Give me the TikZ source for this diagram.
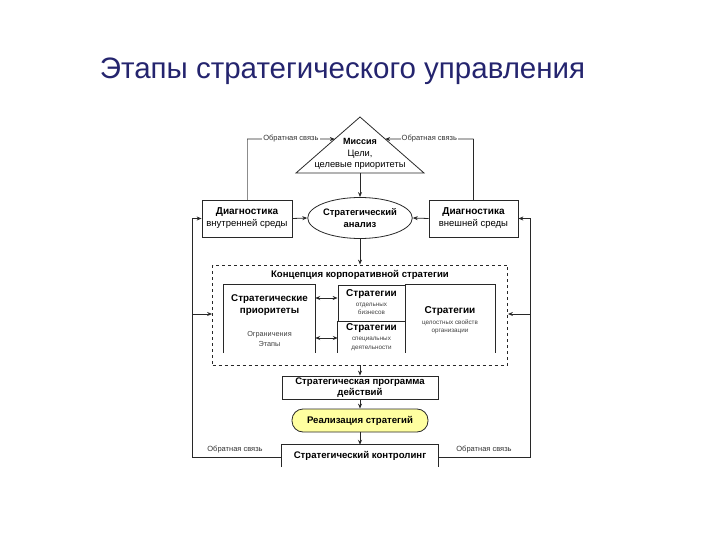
\documentclass[tikz,border=0pt]{standalone}
\usepackage{fontspec}
\setmainfont{Liberation Sans}
\usetikzlibrary{arrows.meta,shapes.geometric,calc}
\definecolor{titleblue}{RGB}{36,36,110}
\definecolor{lineclr}{RGB}{40,40,40}
\definecolor{realyellow}{RGB}{255,255,160}
\begin{document}
\begin{tikzpicture}[x=1pt,y=-1pt,
  ln/.style={draw=lineclr, line width=0.8pt},
  box/.style={ln, rectangle, inner sep=0pt, align=center, font=\bfseries\fontsize{9.6}{11.5}\selectfont},
  plain/.style={rectangle, inner sep=0pt, align=center},
  arr/.style={ln, -{Stealth[length=5pt,width=4pt]}},
  darr/.style={ln, {Stealth[length=5pt,width=4pt]}-{Stealth[length=5pt,width=4pt]}},
  fb/.style={font=\fontsize{7.5}{9}\selectfont, fill=white, inner sep=1pt, text=black!80},
  bigt/.style={font=\bfseries\fontsize{9.6}{11.5}\selectfont, align=center, inner sep=0pt},
  midt/.style={font=\bfseries\fontsize{10}{12}\selectfont, align=center, inner sep=0pt},
  smallt/.style={font=\fontsize{6.3}{8.5}\selectfont, align=center, inner sep=0pt, text=black!75}
]
\useasboundingbox (0,0) rectangle (720,540);
% title
\node[font=\fontsize{29.5}{34}\selectfont, text=titleblue] (title) at (342.5,71) {Этапы стратегического управления};

% triangle
\coordinate (tA) at (360,117);
\coordinate (tL) at (296,173);
\coordinate (tR) at (424,173);
\coordinate (tB) at (360,173);
\draw[ln] (tA) -- (tL) -- (tR) -- cycle;
\node[plain, font=\fontsize{9.3}{11.5}\selectfont] (mission) at (360,154) {{\bfseries\fontsize{9}{11.5}\selectfont Миссия}\\Цели,\\целевые приоритеты};

% diagnostics and analysis
\node[box, minimum width=90, minimum height=37, font=\fontsize{9.5}{12}\selectfont] (din) at (247,218.5) {{\bfseries\fontsize{10}{12}\selectfont Диагностика}\\внутренней среды};
\node[box, minimum width=89, minimum height=37, font=\fontsize{9.5}{12}\selectfont] (dout) at (473.5,218.5) {{\bfseries\fontsize{10}{12}\selectfont Диагностика}\\внешней среды};
\node[ln, ellipse, minimum width=102, minimum height=41, inner sep=0pt, align=center, font=\bfseries\fontsize{9.4}{11.5}\selectfont] (ana) at (360,218) {Стратегический\\анализ};

\draw[arr] (tB) -- (ana.north);
\draw[arr] (din.east) -- (ana.west);
\draw[arr] (dout.west) -- (ana.east);

% top feedback
\coordinate (fL) at (247,139);
\coordinate (fR) at (473.5,139);
\draw[ln, draw=black!45] (din.north) -- (fL);
\draw[arr] (fL) -- node[fb, pos=0.5] {Обратная связь} ($(tA)!0.393!(tL)$);
\draw[ln] (dout.north) -- (fR);
\draw[arr] (fR) -- node[fb, pos=0.5] {Обратная связь} ($(tA)!0.393!(tR)$);

% concept
\node[ln, dashed, rectangle, minimum width=295, minimum height=100, inner sep=0pt] (conc) at (360,315) {};
\node[bigt] (conct) at (360,275) {Концепция корпоративной стратегии};
\draw[arr] (ana.south) -- (conc.north);

% left inner box (open bottom)
\node[plain, minimum width=91, minimum height=68] (lbox) at (269.5,319) {};
\draw[ln] (lbox.south west) -- (lbox.north west) -- (lbox.north east) -- (lbox.south east);
\node[bigt, font=\bfseries\fontsize{9.8}{12}\selectfont] (prio) at (269.5,305) {Стратегические\\приоритеты};
\node[smallt, font=\fontsize{7.3}{10}\selectfont] (ogr) at (269.5,339) {Ограничения\\Этапы};

% strategies
\node[ln, plain, minimum width=67, minimum height=36] (bus) at (371.5,303) {};
\node[plain, minimum width=67, minimum height=32] (spec) at (371.5,337) {};
\node[plain, minimum width=90, minimum height=68] (org) at (450,319) {};
\draw[ln] (spec.north west) -- (spec.south west);
\draw[ln] (spec.north east) -- (spec.south east);
\draw[ln] (org.north west) -- (org.north east) -- (org.south east);

\node[midt] (busT) at (371.5,294.5) {Стратегии};
\node[smallt] (busS) at (371.5,309) {отдельных\\бизнесов};
\node[midt] (specT) at (371.5,328) {Стратегии};
\node[smallt] (specS) at (371.5,344) {специальных\\деятельности};
\node[midt] (orgT) at (450,311) {Стратегии};
\node[smallt] (orgS) at (450,327) {целостных свойств\\организации};

\draw[darr] (lbox.east |- 0,298) -- (bus.west |- 0,298);
\draw[darr] (lbox.east |- 0,338) -- (spec.west |- 0,338);

% lower chain
\node[box, minimum width=156, minimum height=23] (prog) at (360,387.5) {Стратегическая программа\\действий};
\node[ln, rectangle, rounded corners=11pt, fill=realyellow, minimum width=136, minimum height=23, inner sep=0pt, font=\bfseries\fontsize{9.6}{11.5}\selectfont] (real) at (360,420.5) {Реализация стратегий};
\node[plain, minimum width=156, minimum height=22, font=\bfseries\fontsize{9.6}{11.5}\selectfont] (ctrl) at (360,456) {Стратегический контролинг};
\draw[ln] (ctrl.south west) -- (ctrl.north west) -- (ctrl.north east) -- (ctrl.south east);

\draw[arr] (conc.south) -- (prog.north);
\draw[arr] (prog.south) -- (real.north);
\draw[arr] (real.south) -- (ctrl.north);

% outer feedback loop
\coordinate (oL1) at (192,218.5);
\coordinate (oL2) at (192,457);
\coordinate (oR1) at (530,218.5);
\coordinate (oR2) at (530,457);
\draw[ln] (ctrl.west |- oL2) -- (oL2) -- (oL1);
\draw[ln] (ctrl.east |- oR2) -- (oR2) -- (oR1);
\node[fb, fill=none] (fbl) at (235,450) {Обратная связь};
\node[fb, fill=none] (fbr) at (484,450) {Обратная связь};
\draw[arr] (oL1) -- (din.west);
\draw[arr] (oR1) -- (dout.east);
\draw[arr] (oL1 |- 0,314) -- (conc.west |- 0,314);
\draw[arr] (oR1 |- 0,314) -- (conc.east |- 0,314);
\end{tikzpicture}
\end{document}
